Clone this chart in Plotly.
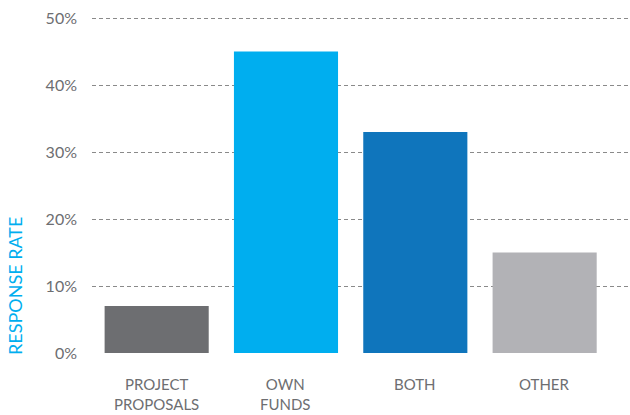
import plotly.graph_objects as go

categories = ["PROJECT<br>PROPOSALS", "OWN<br>FUNDS", "BOTH", "OTHER"]
values = [7, 45, 33, 15]
bar_colors = ["#6d6e71", "#00aeef", "#0f75bc", "#b2b2b6"]
y_ticks = [0, 10, 20, 30, 40, 50]
y_labels = ["0%", "10%", "20%", "30%", "40%", "50%"]

W, H = 630, 415
M_L, M_R, M_T, M_B = 92, 0, 15, 62
plot_h = H - M_T - M_B


def paper_y(px):
    """Convert a pixel row (from the top of the page) to paper y."""
    return (H - M_B - px) / plot_h


def paper_x(px):
    return (px - M_L) / (W - M_L - M_R)


fig = go.Figure(
    go.Bar(
        x=list(range(len(categories))),
        y=values,
        marker=dict(color=bar_colors, line=dict(width=0)),
        width=0.805,
        hoverinfo="skip",
    )
)

# category labels hang from a common top line under the bars
annotations = []
for i, cat in enumerate(categories):
    annotations.append(
        dict(
            text=cat,
            x=i,
            xref="x",
            y=paper_y(373),
            yref="paper",
            xanchor="center",
            yanchor="top",
            showarrow=False,
            font=dict(size=15, color="#6d6e71"),
        )
    )

annotations.append(
    dict(
        text="RESPONSE RATE",
        x=paper_x(15),
        y=paper_y(286),
        xref="paper",
        yref="paper",
        xanchor="center",
        yanchor="middle",
        showarrow=False,
        textangle=-90,
        font=dict(size=18, color="#00aeef"),
    )
)

fig.update_layout(
    width=W,
    height=H,
    margin=dict(l=M_L, r=M_R, t=M_T, b=M_B),
    plot_bgcolor="white",
    paper_bgcolor="white",
    font=dict(family="Lato, sans-serif", color="#6d6e71"),
    showlegend=False,
    xaxis=dict(
        range=[-0.5, 3.66],
        showticklabels=False,
        showgrid=False,
        zeroline=False,
        showline=False,
        ticks="",
    ),
    yaxis=dict(
        range=[0, 50 * plot_h / 335],
        tickvals=y_ticks,
        ticktext=y_labels,
        tickfont=dict(size=16, color="#6d6e71"),
        showgrid=True,
        gridcolor="#8a8a8a",
        griddash="4px,3px",
        gridwidth=1,
        zeroline=False,
        showline=False,
        ticks="",
        ticklabelstandoff=14,
        layer="below traces",
    ),
    annotations=annotations,
)

fig.write_html("out.html")
